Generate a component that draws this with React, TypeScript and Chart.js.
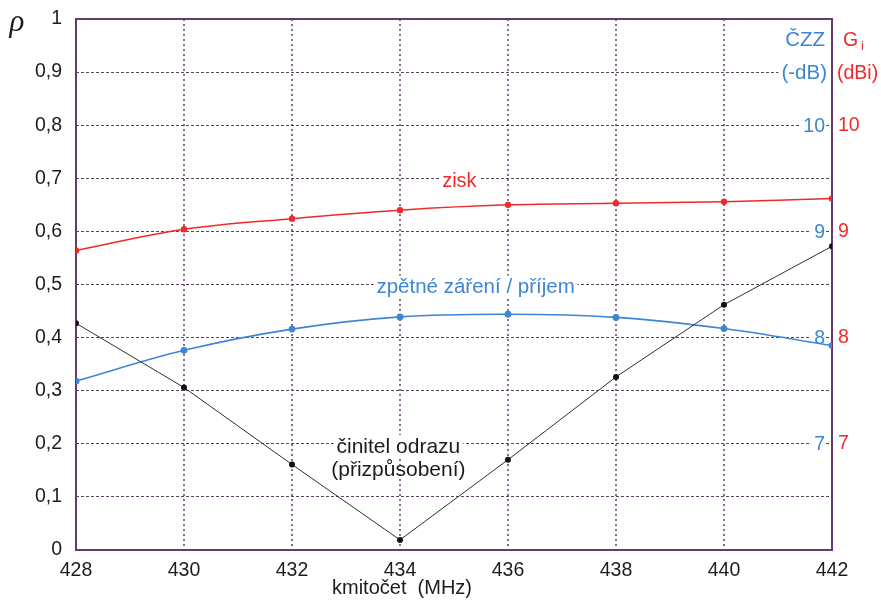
import React, { useEffect, useRef } from 'react';
import { Chart, registerables } from 'chart.js';

Chart.register(...registerables);

// ---- data ----
const FREQ_MHZ = [428, 430, 432, 434, 436, 438, 440, 442];
const REFLECTION = [0.427, 0.306, 0.161, 0.019, 0.17, 0.326, 0.462, 0.572];
const GAIN_DBI = [8.82, 9.02, 9.12, 9.2, 9.25, 9.265, 9.28, 9.31];
const BACK_DB = [7.59, 7.88, 8.08, 8.195, 8.22, 8.19, 8.085, 7.925];
const RHO_TICKS = [0, 0.1, 0.2, 0.3, 0.4, 0.5, 0.6, 0.7, 0.8, 0.9, 1];
const DB_TICKS = [7, 8, 9, 10];

const FAMILY = "'Liberation Sans', Arial, sans-serif";
const RED = '#f02a2a';
const BLUE = '#3d86d6';
const BLACK = '#1c1c1c';
const FRAME = '#633a72';
const HGRID = '#5e4262';
const VGRID = '#8c6c94';

function textBox(
  ctx: CanvasRenderingContext2D,
  text: string,
  x: number,
  y: number,
  align: CanvasTextAlign,
  color: string,
  size: number,
  bg: boolean
) {
  ctx.font = `${size}px ${FAMILY}`;
  ctx.textAlign = align;
  ctx.textBaseline = 'alphabetic';
  const w = ctx.measureText(text).width;
  let left = x;
  if (align === 'center') left = x - w / 2;
  if (align === 'right') left = x - w;
  if (bg) {
    ctx.fillStyle = '#ffffff';
    ctx.fillRect(left - 3, y - size * 0.85, w + 6, size * 1.05);
  }
  ctx.fillStyle = color;
  ctx.fillText(text, x, y);
}

const overlay = {
  id: 'overlay',
  beforeDatasetsDraw(chart: any) {
    const { ctx, chartArea: a, scales } = chart;
    const xs = scales.x;
    const ys = scales.y;
    const yc = scales.yC;
    ctx.save();
    // frame
    ctx.strokeStyle = FRAME;
    ctx.lineWidth = 2;
    ctx.setLineDash([]);
    ctx.strokeRect(a.left, a.top, a.right - a.left, a.bottom - a.top);

    // blue right tick labels (inside plot)
    ctx.font = `19.5px ${FAMILY}`;
    ctx.textAlign = 'right';
    ctx.textBaseline = 'middle';
    DB_TICKS.forEach((v) => {
      const y = yc.getPixelForValue(v);
      const t = String(v);
      const w = ctx.measureText(t).width;
      const xr = a.right - 7;
      ctx.fillStyle = '#ffffff';
      ctx.fillRect(xr - w - 3, y - 10, w + 4, 20);
      ctx.fillStyle = BLUE;
      ctx.fillText(t, xr, y + 1);
    });

    // headers
    textBox(ctx, 'ČZZ', a.right - 7, 46, 'right', BLUE, 20.5, false);
    textBox(ctx, '(-dB)', a.right - 5, 79, 'right', BLUE, 20.5, true);
    textBox(ctx, 'G', a.right + 11, 46, 'left', RED, 19.5, false);
    textBox(ctx, 'i', a.right + 29, 50, 'left', RED, 13, false);
    textBox(ctx, '(dBi)', a.right + 5, 79, 'left', RED, 19.5, false);

    // annotations
    textBox(ctx, 'zisk', xs.getPixelForValue(435.1), 187, 'center', RED, 20, true);
    textBox(ctx, 'zpětné záření / příjem', xs.getPixelForValue(435.4), 293, 'center', BLUE, 20.5, true);
    textBox(ctx, 'činitel odrazu', xs.getPixelForValue(433.97), 453, 'center', BLACK, 21, true);
    textBox(ctx, '(přizpůsobení)', xs.getPixelForValue(433.97), 476, 'center', BLACK, 21, false);

    // axis titles
    textBox(ctx, 'kmitočet  (MHz)', 332, 594, 'left', BLACK, 20, false);
    ctx.font = `italic 31px 'Liberation Serif', serif`;
    ctx.textAlign = 'center';
    ctx.textBaseline = 'alphabetic';
    ctx.fillStyle = BLACK;
    ctx.fillText('ρ', 17, ys.top + 12);
    ctx.restore();
  },
};

export default function App() {
  const ref = useRef<HTMLCanvasElement | null>(null);

  useEffect(() => {
    if (!ref.current) return;
    const toPts = (ys: number[]) => FREQ_MHZ.map((x, i) => ({ x, y: ys[i] }));
    const chart = new Chart(ref.current, {
      type: 'line',
      data: {
        datasets: [
          {
            label: 'činitel odrazu',
            data: toPts(REFLECTION),
            yAxisID: 'y',
            borderColor: '#2e2e2e',
            borderWidth: 1,
            pointRadius: 3,
            pointBorderWidth: 0,
            pointBackgroundColor: '#111111',
            tension: 0,
          },
          {
            label: 'zisk',
            data: toPts(GAIN_DBI),
            yAxisID: 'yG',
            borderColor: RED,
            borderWidth: 1.5,
            pointRadius: 3.2,
            pointBorderWidth: 0,
            pointBackgroundColor: RED,
            tension: 0.35,
          },
          {
            label: 'zpětné záření',
            data: toPts(BACK_DB),
            yAxisID: 'yC',
            borderColor: BLUE,
            borderWidth: 1.6,
            pointRadius: 3.4,
            pointBorderWidth: 0,
            pointBackgroundColor: BLUE,
            tension: 0.35,
          },
        ],
      },
      options: {
        responsive: false,
        animation: false,
        events: [],
        layout: { padding: { top: 19, left: 0, right: 0, bottom: 0 } },
        plugins: { legend: { display: false }, tooltip: { enabled: false } },
        scales: {
          x: {
            type: 'linear',
            min: 428,
            max: 442,
            afterBuildTicks: (s: any) => {
              s.ticks = FREQ_MHZ.map((v) => ({ value: v }));
            },
            ticks: {
              color: BLACK,
              font: { size: 19.5, family: FAMILY },
              padding: 9,
              maxRotation: 0,
              autoSkip: false,
              callback: (v: any) => String(v),
            },
            grid: { color: VGRID, lineWidth: 2, drawTicks: false },
            border: { display: false, dash: [2, 3] },
            afterFit: (s: any) => {
              s.height = 55;
              s.paddingLeft = 0;
              s.paddingRight = 0;
            },
          },
          y: {
            position: 'left',
            min: 0,
            max: 1,
            afterBuildTicks: (s: any) => {
              s.ticks = RHO_TICKS.map((v) => ({ value: v }));
            },
            ticks: {
              color: BLACK,
              font: { size: 19.5, family: FAMILY },
              padding: 14,
              callback: (v: any) => {
                const n = Number(v);
                if (n === 0) return '0';
                if (n === 1) return '1';
                return n.toFixed(1).replace('.', ',');
              },
            },
            grid: { color: HGRID, lineWidth: 1, drawTicks: false },
            border: { display: false, dash: [3, 2] },
            afterFit: (s: any) => {
              s.width = 76;
              s.paddingTop = 0;
              s.paddingBottom = 0;
            },
          },
          yG: {
            position: 'right',
            min: 6,
            max: 11,
            afterBuildTicks: (s: any) => {
              s.ticks = DB_TICKS.map((v) => ({ value: v }));
            },
            ticks: {
              color: RED,
              font: { size: 19.5, family: FAMILY },
              padding: 6,
            },
            grid: { display: false, drawTicks: false },
            border: { display: false },
            afterFit: (s: any) => {
              s.width = 49;
              s.paddingTop = 0;
              s.paddingBottom = 0;
            },
          },
          yC: {
            display: false,
            min: 6,
            max: 11,
          },
        },
      },
      plugins: [overlay],
    } as any);
    return () => chart.destroy();
  }, []);

  return (
    <div style={{ position: 'fixed', left: 0, top: 0, width: 881, height: 605, background: '#ffffff' }}>
      <canvas ref={ref} width={881} height={605} style={{ display: 'block' }} />
    </div>
  );
}
